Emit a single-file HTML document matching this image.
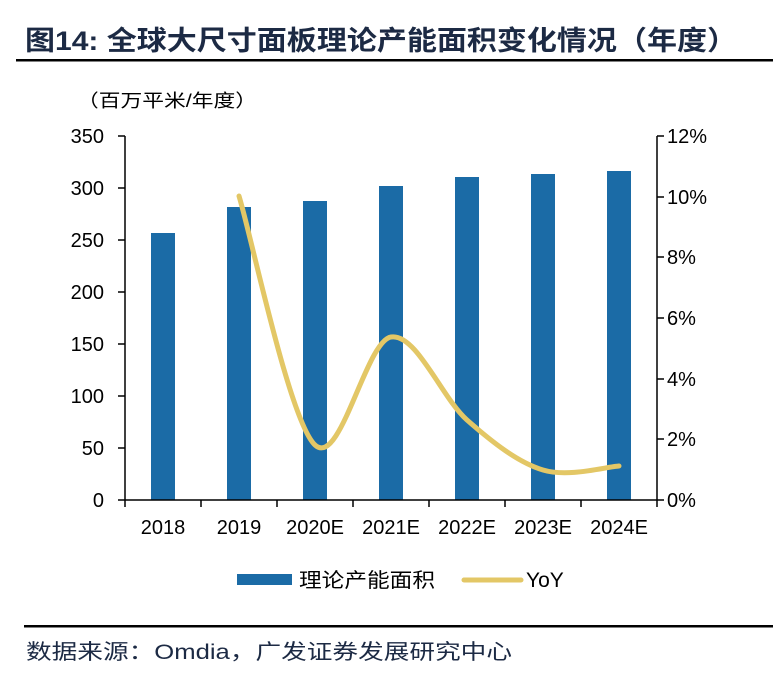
<!DOCTYPE html>
<html><head><meta charset="utf-8"><style>
body{margin:0;background:#fff;width:778px;height:688px;overflow:hidden}
svg text{font-family:"Liberation Sans","Noto Sans CJK SC",sans-serif}
</style></head><body>
<svg width="778" height="688" viewBox="0 0 778 688" xmlns="http://www.w3.org/2000/svg">
<text x="25" y="50" font-size="27" font-weight="bold" fill="#1c2a44" textLength="712" lengthAdjust="spacingAndGlyphs">图14:  全球大尺寸面板理论产能面积变化情况（年度）</text>
<rect x="16" y="59" width="757" height="2.5" fill="#000"/>
<text x="77" y="107" font-size="18" fill="#000" textLength="180" lengthAdjust="spacingAndGlyphs">（百万平米/年度）</text>
<g fill="#1b6ba6">
<rect x="151" y="233" width="24" height="267"/>
<rect x="227" y="207" width="24" height="293"/>
<rect x="303" y="201" width="24" height="299"/>
<rect x="379" y="186" width="24" height="314"/>
<rect x="455" y="177" width="24" height="323"/>
<rect x="531" y="174" width="24" height="326"/>
<rect x="607" y="171" width="24" height="329"/>
</g>
<g stroke="#000" stroke-width="1.5" fill="none">
<line x1="125" y1="136" x2="125" y2="500"/>
<line x1="657" y1="136" x2="657" y2="500"/>
<line x1="118" y1="500" x2="664" y2="500"/>
<path d="M118 136H125M118 188H125M118 240H125M118 292H125M118 344H125M118 396H125M118 448H125"/>
<path d="M657 136H664M657 197H664M657 257H664M657 318H664M657 379H664M657 439H664"/>
<path d="M125 500V507M201 500V507M277 500V507M353 500V507M429 500V507M505 500V507M581 500V507M657 500V507"/>
</g>
<g font-size="20" text-anchor="end" fill="#000">
<text x="104" y="143">350</text><text x="104" y="195">300</text><text x="104" y="247">250</text>
<text x="104" y="299">200</text><text x="104" y="351">150</text><text x="104" y="403">100</text>
<text x="104" y="455">50</text><text x="104" y="507">0</text>
</g>
<g font-size="20" fill="#000">
<text x="667" y="143">12%</text><text x="667" y="204">10%</text><text x="667" y="264">8%</text>
<text x="667" y="325">6%</text><text x="667" y="386">4%</text><text x="667" y="446">2%</text><text x="667" y="507">0%</text>
</g>
<g font-size="20" text-anchor="middle" fill="#000">
<text x="163" y="534">2018</text><text x="239" y="534">2019</text><text x="315" y="534">2020E</text>
<text x="391" y="534">2021E</text><text x="467" y="534">2022E</text><text x="543" y="534">2023E</text><text x="619" y="534">2024E</text>
</g>
<path d="M239 196C251.7 237.5 289.7 421.5 315 445C340.3 468.5 365.7 341.2 391 337C416.3 332.8 441.7 397.8 467 420C492.3 442.2 517.7 462.3 543 470C568.3 477.7 606.3 466.7 619 466" stroke="#e3c766" stroke-width="5" fill="none" stroke-linecap="round"/>
<rect x="237" y="574" width="55" height="11" fill="#1b6ba6"/>
<text x="299" y="587" font-size="20" fill="#000" textLength="136" lengthAdjust="spacingAndGlyphs">理论产能面积</text>
<line x1="464" y1="580" x2="521" y2="580" stroke="#e3c766" stroke-width="5" stroke-linecap="round"/>
<text x="526" y="587" font-size="21" fill="#000">YoY</text>
<rect x="24" y="625" width="749" height="2.5" fill="#000"/>
<text x="26" y="659" font-size="21" fill="#1c2a44" textLength="486" lengthAdjust="spacingAndGlyphs">数据来源：Omdia，广发证券发展研究中心</text>
</svg>
</body></html>
